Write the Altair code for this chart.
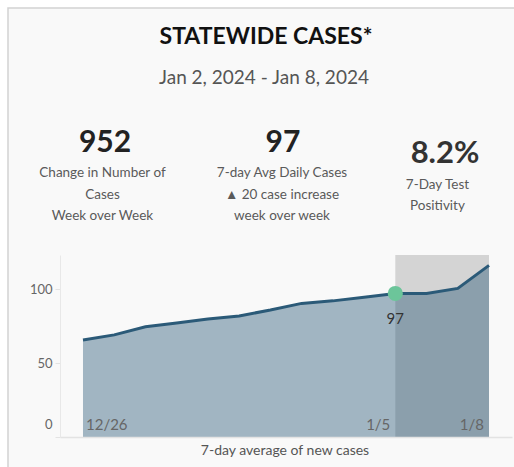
import altair as alt
import pandas as pd

# ---- data ----
dates = ["2023-12-26", "2023-12-27", "2023-12-28", "2023-12-29", "2023-12-30",
         "2023-12-31", "2024-01-01", "2024-01-02", "2024-01-03", "2024-01-04",
         "2024-01-05", "2024-01-06", "2024-01-07", "2024-01-08"]
avg_cases = [65.5, 69, 74.5, 77, 79.7, 81.8, 85.8, 90.3, 92, 94.4, 97, 97, 100.4, 116]

band_start = ["2024-01-05"]
band_end = ["2024-01-08"]

highlight_date = ["2024-01-05"]
highlight_value = [97]

first_label_dates = ["2023-12-26"]
first_label_text = ["12/26"]
other_label_dates = ["2024-01-05", "2024-01-08"]
other_label_text = ["1/5", "1/8"]

title_text = "STATEWIDE CASES*"
subtitle_text = "Jan 2, 2024 - Jan 8, 2024"
kpi_values = ["952", "97", "8.2%"]
kpi_labels = [
    ["Change in Number of", "Cases", "Week over Week"],
    ["7-day Avg Daily Cases", "\u25B2 20 case increase", "week over week"],
    ["7-Day Test", "Positivity"],
]
y_ticks = [0, 50, 100]
x_title = "7-day average of new cases"

FONT = "Lato"
LINE = "#2b5a78"
GRAY = "#555555"

df = pd.DataFrame({"date": dates, "cases": avg_cases})
band_df = pd.DataFrame({"start": band_start, "end": band_end})
hl_df = pd.DataFrame({"date": highlight_date, "cases": highlight_value})
lab1_df = pd.DataFrame({"date": first_label_dates, "text": first_label_text})
lab2_df = pd.DataFrame({"date": other_label_dates, "text": other_label_text})

W, H = 452, 182
xscale = alt.Scale(type="utc", domain=[
    alt.DateTime(year=2023, month=12, date=25, hours=6, minutes=20, utc=True),
    alt.DateTime(year=2024, month=1, date=8, hours=17, minutes=40, utc=True)])
yscale = alt.Scale(domain=[0, 123], nice=False)

x_enc = alt.X("date:T", scale=xscale, axis=alt.Axis(
    title=None, labels=False, ticks=False, grid=False, zindex=1,
    domainColor="#e3e3e3", domainWidth=1.5))
y_enc = alt.Y("cases:Q", scale=yscale, axis=alt.Axis(
    title=None, values=y_ticks, grid=False, domainColor="#e8e8e8", zindex=1,
    tickColor="#e3e3e3", tickSize=5, labelColor="#666666", labelFontSize=13,
    labelFont=FONT, labelPadding=3, labelFlush=True, labelFlushOffset=-6))

# panel background
panel = alt.Chart(pd.DataFrame({"a": [0]})).mark_rect(
    fill="#f9f9f9", stroke="#d2d2d2", strokeWidth=1.5).encode(
    x=alt.value(-52), x2=alt.value(470), y=alt.value(-247), y2=alt.value(230))

band = alt.Chart(band_df).mark_rect(color="#d4d4d4").encode(
    x=alt.X("start:T", scale=xscale), x2="end:T",
    y=alt.value(0), y2=alt.value(H))

area = alt.Chart(df).mark_area(color=LINE, opacity=0.43).encode(x=x_enc, y=y_enc)
line = alt.Chart(df).mark_line(color=LINE, strokeWidth=3).encode(x="date:T", y="cases:Q")

dot = alt.Chart(hl_df).mark_circle(color="#6cc59a", opacity=1, size=230).encode(
    x="date:T", y="cases:Q")
dot_label = alt.Chart(hl_df).mark_text(font=FONT, fontSize=15, color="#333333", dy=26).encode(
    x="date:T", y="cases:Q", text="cases:Q")

lab1 = alt.Chart(lab1_df).mark_text(font=FONT, fontSize=15, color="#666666",
                                   align="left", dx=3).encode(
    x="date:T", y=alt.value(170), text="text:N")
lab2 = alt.Chart(lab2_df).mark_text(font=FONT, fontSize=15, color="#666666",
                                   align="right", dx=-5).encode(
    x="date:T", y=alt.value(170), text="text:N")

one = pd.DataFrame({"a": [0]})


def txt(s, x, y, size, color=GRAY, weight="normal"):
    return alt.Chart(one).mark_text(text=s, font=FONT, fontSize=size, color=color,
                                    fontWeight=weight, align="center",
                                    baseline="middle").encode(
        x=alt.value(x), y=alt.value(y))


texts = [
    txt(title_text, 206, -218, 23, "#111111", "bold"),
    txt(subtitle_text, 204, -177, 19, "#555555"),
    txt(kpi_values[0], 45, -112, 30, "#222222", "bold"),
    txt(kpi_values[1], 223, -112, 30, "#222222", "bold"),
    txt(kpi_values[2], 385, -101, 31, "#333333", "bold"),
    txt(x_title, 225, 196, 14, "#555555"),
]
kx = [42.5, 222, 377.5]
ky = [[-82, -60, -39], [-82, -60, -39], [-70, -49]]
for i, lines in enumerate(kpi_labels):
    for j, s in enumerate(lines):
        texts.append(txt(s, kx[i], ky[i][j], 13.5, "#5a5a5a"))

chart = alt.layer(panel, band, area, line, dot, dot_label, lab1, lab2, *texts).properties(
    width=W, height=H,
    autosize=alt.AutoSizeParams(type="none"),
    padding={"left": 60, "top": 255, "right": 2, "bottom": 30},
    background="white",
).configure_view(stroke=None)

chart.save("out.html", embed_options={"renderer": "svg", "actions": False})
